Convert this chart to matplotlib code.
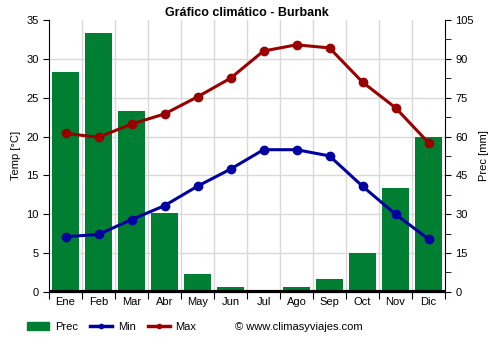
import numpy as np
import matplotlib
matplotlib.use('Agg')
import matplotlib.pyplot as plt
from matplotlib.patches import Patch
from matplotlib.lines import Line2D

months = ['Ene', 'Feb', 'Mar', 'Abr', 'May', 'Jun', 'Jul', 'Ago', 'Sep', 'Oct', 'Nov', 'Dic']
prec = [85, 100, 70, 30.5, 7, 2, 0.5, 2, 5, 15, 40, 60]
t_min = [7.1, 7.4, 9.3, 11.1, 13.6, 15.8, 18.3, 18.3, 17.5, 13.6, 10.0, 6.8]
t_max = [20.4, 19.9, 21.6, 22.9, 25.1, 27.5, 31.0, 31.8, 31.4, 27.0, 23.7, 19.2]

plt.rcParams['font.family'] = ['Liberation Sans', 'DejaVu Sans']

fig = plt.figure(figsize=(5, 3.5), dpi=100)
ax = fig.add_axes([0.098, 0.166, 0.792, 0.777])
ax2 = ax.twinx()

x = np.arange(len(months))
ax2.bar(x, prec, width=0.8, color='#007f33', zorder=2)
ax2.set_ylim(0, 105)
ax2.set_yticks(np.arange(0, 106, 15))
ax2.set_yticks(np.arange(0, 106, 7.5), minor=True)
ax2.set_ylabel('Prec [mm]', fontsize=8)
ax2.tick_params(labelsize=8, length=4)
ax2.tick_params(which='minor', length=4)

# temperature axis drawn on top of bars
ax.set_zorder(ax2.get_zorder() + 1)
ax.patch.set_visible(False)
ax.plot(x, t_min, color='#0000a0', lw=2.2, marker='o', ms=6, zorder=3)
ax.plot(x, t_max, color='#990000', lw=2.2, marker='o', ms=6, zorder=3)
ax.set_ylim(0, 35)
ax.set_yticks(np.arange(0, 36, 5))
ax.set_xlim(-0.5, 11.5)
ax.set_xticks(np.arange(-0.5, 12, 1), minor=False)
ax.set_xticklabels([])
ax.set_xticks(x, minor=True)
ax.set_xticklabels(months, minor=True)
ax.tick_params(axis='x', which='minor', length=0, labelsize=8)
ax.tick_params(axis='x', which='major', length=5)
ax.tick_params(axis='y', labelsize=8, length=4)
ax.set_ylabel('Temp [°C]', fontsize=8)

# grid on the lower axes
ax2.grid(False)
for v in np.arange(5, 35, 5):
    ax2.axhline(v * 3, color='#d9d9d9', lw=1, zorder=0)
for v in np.arange(0.5, 11, 1):
    ax2.axvline(v, color='#d9d9d9', lw=1, zorder=0)
ax2.axhline(0, color='black', lw=3, zorder=3)

for a in (ax, ax2):
    a.spines['top'].set_visible(False)
ax.spines['right'].set_visible(False)
ax2.spines['left'].set_visible(False)

ax.set_title('Gráfico climático - Burbank', fontsize=9, fontweight='bold', pad=3)

handles = [Patch(color='#007f33'),
           Line2D([0], [0], color='#0000a0', lw=2.5, marker='o', ms=3),
           Line2D([0], [0], color='#990000', lw=2.5, marker='o', ms=3)]
fig.legend(handles, ['Prec', 'Min', 'Max'], loc='center left', bbox_to_anchor=(0.045, 0.067),
           ncol=3, frameon=False, fontsize=8, handlelength=2.0, columnspacing=1.1,
           handletextpad=0.5, borderaxespad=0)
fig.text(0.47, 0.067, '© www.climasyviajes.com', fontsize=8, va='center')

fig.savefig('out.png', dpi=100)
